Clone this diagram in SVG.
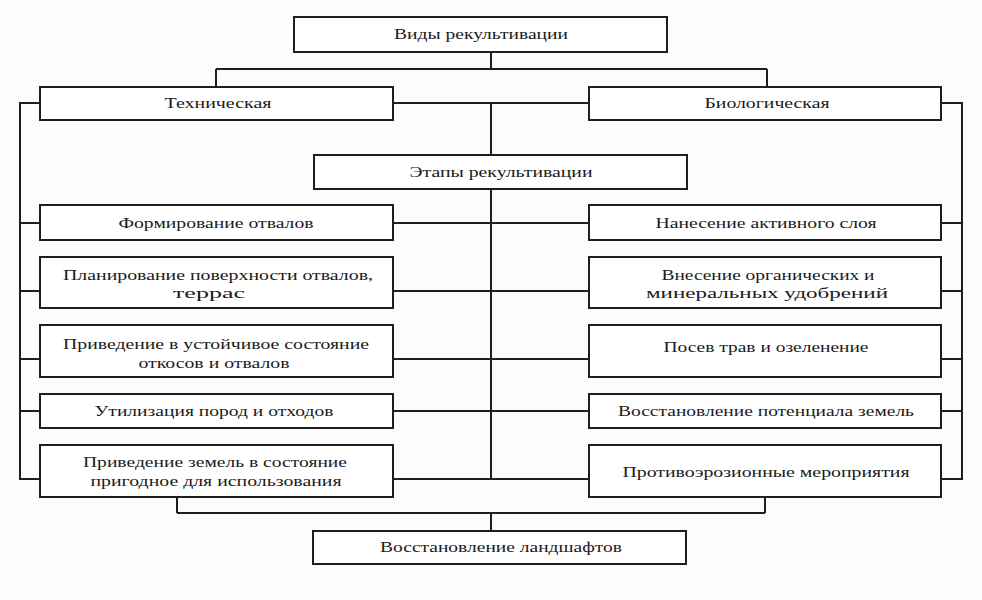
<svg xmlns="http://www.w3.org/2000/svg" width="982" height="600" viewBox="0 0 982 600">
<style>
.b{fill:#fff;stroke:#1e1e1e;stroke-width:2}
.c{fill:none;stroke:#1e1e1e;stroke-width:2}
text{font-family:"Liberation Serif","Times New Roman",serif;font-size:15px;fill:#1a1a1a;text-anchor:middle}
</style>
<rect width="982" height="600" fill="#fcfcfc"/>
<g id="connectors">
<path class="c" d="M491 52V69M216 69H767M216 69V87M767 69V87"/>
<path class="c" d="M393 103H589M491 103V155"/>
<path class="c" d="M40 103H20V479H40M941 103H962V479H941"/>
<path class="c" d="M491 189V479"/>
<path class="c" d="M20 223H40M393 223H589M941 223H962"/>
<path class="c" d="M20 291H40M393 291H589M941 291H962"/>
<path class="c" d="M20 359H40M393 359H589M941 359H962"/>
<path class="c" d="M20 411H40M393 411H589M941 411H962"/>
<path class="c" d="M393 479H589"/>
<path class="c" d="M177 497V513M765 497V513M177 513H765M491 513V531"/>
</g>
<g id="n-vidy"><rect class="b" x="294" y="17" width="373" height="35"/><text x="481" y="39" textLength="174" lengthAdjust="spacingAndGlyphs">Виды рекультивации</text></g>
<g id="n-tech"><rect class="b" x="40" y="87" width="353" height="33"/><text x="218" y="108" textLength="107" lengthAdjust="spacingAndGlyphs">Техническая</text></g>
<g id="n-bio"><rect class="b" x="589" y="87" width="352" height="33"/><text x="767" y="108" textLength="125" lengthAdjust="spacingAndGlyphs">Биологическая</text></g>
<g id="n-etapy"><rect class="b" x="314" y="155" width="373" height="34"/><text x="501" y="177" textLength="183" lengthAdjust="spacingAndGlyphs">Этапы рекультивации</text></g>
<g id="n-l1"><rect class="b" x="40" y="205" width="353" height="35"/><text x="216" y="228" textLength="195" lengthAdjust="spacingAndGlyphs">Формирование отвалов</text></g>
<g id="n-l2"><rect class="b" x="40" y="257" width="353" height="51"/><text x="218" y="280" textLength="310" lengthAdjust="spacingAndGlyphs">Планирование поверхности отвалов,</text><text x="209" y="298" textLength="72" lengthAdjust="spacingAndGlyphs">террас</text></g>
<g id="n-l3"><rect class="b" x="40" y="325" width="353" height="52"/><text x="216" y="349" textLength="306" lengthAdjust="spacingAndGlyphs">Приведение в устойчивое состояние</text><text x="214" y="368" textLength="151" lengthAdjust="spacingAndGlyphs">откосов и отвалов</text></g>
<g id="n-l4"><rect class="b" x="40" y="394" width="353" height="34"/><text x="214" y="416" textLength="239" lengthAdjust="spacingAndGlyphs">Утилизация пород и отходов</text></g>
<g id="n-l5"><rect class="b" x="40" y="445" width="353" height="52"/><text x="215" y="467" textLength="264" lengthAdjust="spacingAndGlyphs">Приведение земель в состояние</text><text x="216" y="486" textLength="251" lengthAdjust="spacingAndGlyphs">пригодное для использования</text></g>
<g id="n-r1"><rect class="b" x="589" y="205" width="352" height="35"/><text x="766" y="228" textLength="221" lengthAdjust="spacingAndGlyphs">Нанесение активного слоя</text></g>
<g id="n-r2"><rect class="b" x="589" y="257" width="352" height="51"/><text x="768" y="280" textLength="213" lengthAdjust="spacingAndGlyphs">Внесение органических и</text><text x="767" y="298" textLength="242" lengthAdjust="spacingAndGlyphs">минеральных удобрений</text></g>
<g id="n-r3"><rect class="b" x="589" y="325" width="352" height="52"/><text x="766" y="352" textLength="205" lengthAdjust="spacingAndGlyphs">Посев трав и озеленение</text></g>
<g id="n-r4"><rect class="b" x="589" y="394" width="352" height="34"/><text x="766" y="416" textLength="296" lengthAdjust="spacingAndGlyphs">Восстановление потенциала земель</text></g>
<g id="n-r5"><rect class="b" x="589" y="445" width="352" height="52"/><text x="766" y="477" textLength="287" lengthAdjust="spacingAndGlyphs">Противоэрозионные мероприятия</text></g>
<g id="n-land"><rect class="b" x="313" y="531" width="373" height="33"/><text x="501" y="552" textLength="242" lengthAdjust="spacingAndGlyphs">Восстановление ландшафтов</text></g>
</svg>
